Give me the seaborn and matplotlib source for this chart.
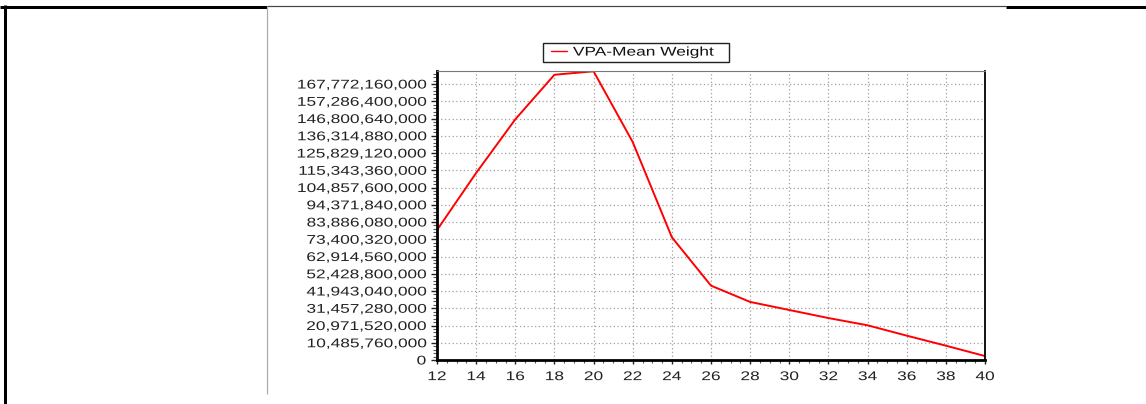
import matplotlib
matplotlib.use("Agg")
import matplotlib.pyplot as plt
import seaborn as sns
import numpy as np
from matplotlib.patheffects import AbstractPathEffect
from matplotlib.transforms import Affine2D
from matplotlib.lines import Line2D
from matplotlib.ticker import AutoMinorLocator
from matplotlib.legend_handler import HandlerLine2D

# ---------------- data ----------------
ages = [12, 14, 16, 18, 20, 22, 24, 26, 28, 30, 32, 34, 36, 38, 40]
mean_weight = [79.0e9, 113.7e9, 146.3e9, 173.4e9, 175.5e9, 132.5e9, 74.6e9,
               45.2e9, 35.3e9, 30.4e9, 25.5e9, 21.1e9, 14.8e9, 8.7e9, 2.4e9]
series_label = "VPA-Mean Weight"
y_step = 10_485_760_000
y_ticks = [i * y_step for i in range(17)]
y_tick_labels = [f"{v:,}" for v in y_ticks]
x_ticks = list(range(12, 41, 2))
x_tick_labels = [str(v) for v in x_ticks]

# ---------------- style ----------------
sns.set_style("white")
plt.rcParams["font.family"] = ["Liberation Sans", "DejaVu Sans"]

W, H = 1146, 404
FS = 9.1
SX = 1.37


class HStretch(AbstractPathEffect):
    """Horizontally stretch text glyphs around an anchor."""
    def __init__(self, sx, anchor):
        super().__init__()
        self.sx = sx
        self.anchor = anchor

    def draw_path(self, renderer, gc, tpath, affine, rgbFace=None):
        ext = tpath.get_extents(affine)
        if self.anchor == "left":
            a = ext.x0
        elif self.anchor == "right":
            a = ext.x1
        else:
            a = 0.5 * (ext.x0 + ext.x1)
        t = affine + Affine2D().translate(-a, 0).scale(self.sx, 1).translate(a, 0)
        renderer.draw_path(gc, tpath, t, rgbFace)


def px(x, y):
    return x / W, 1 - y / H


fig = plt.figure(figsize=(W / 100, H / 100), dpi=100)
fig.patch.set_facecolor("white")
l, b = 437 / W, 1 - 360 / H
ax = fig.add_axes([l, b, (985 - 437) / W, (360 - 71) / H])

sns.lineplot(x=ages, y=mean_weight, color="#ff0000", linewidth=1.4, ax=ax,
             label=series_label, legend=False)

ax.set_xlim(12, 40)
ax.set_ylim(0, 175.68e9)
ax.set_xticks(x_ticks, x_tick_labels)
ax.set_yticks(y_ticks, y_tick_labels)
ax.xaxis.set_minor_locator(AutoMinorLocator(4))
ax.yaxis.set_minor_locator(AutoMinorLocator(5))

ax.tick_params(axis="y", which="both", left=True, right=False)
ax.tick_params(axis="x", which="both", bottom=True, top=False)
ax.tick_params(axis="y", which="major", direction="out", length=4.3, width=1.0,
               pad=3.6, labelsize=FS, colors="#222222")
ax.tick_params(axis="y", which="minor", direction="out", length=2.8, width=0.8,
               colors="#555555")
ax.tick_params(axis="x", which="major", direction="out", length=3.0, width=1.0,
               pad=5.0, labelsize=FS, colors="#222222")
ax.tick_params(axis="x", which="minor", direction="out", length=2.0, width=0.8,
               colors="#555555")
ax.set_xlabel("")
ax.set_ylabel("")

ax.grid(True, which="major", color="#a0a0a0", linestyle=(0, (1, 2)), linewidth=0.9)
ax.set_axisbelow(True)

ax.spines["left"].set_linewidth(2.0)
ax.spines["bottom"].set_linewidth(2.0)
ax.spines["left"].set_color("black")
ax.spines["bottom"].set_color("black")
ax.spines["right"].set_linewidth(1.3)
ax.spines["right"].set_color("black")
ax.spines["top"].set_linewidth(0.8)
ax.spines["top"].set_color("#777777")

for lab in ax.get_yticklabels():
    lab.set_path_effects([HStretch(SX, "right")])
for lab in ax.get_xticklabels():
    lab.set_path_effects([HStretch(SX, "center")])

# legend
x0, y0 = px(543, 62)
x1, y1 = px(729, 41)
handles, labels = ax.get_legend_handles_labels()
leg = ax.legend(handles, labels, loc="lower left",
                bbox_to_anchor=(x0, y0, x1 - x0, y1 - y0),
                bbox_transform=fig.transFigure, mode="expand",
                borderaxespad=0, borderpad=0.27, handlelength=1.63,
                handletextpad=0.47, fontsize=FS, frameon=True, fancybox=False,
                shadow=False, framealpha=1,
                handler_map={Line2D: HandlerLine2D(xpad=0.36)})
leg.get_frame().set_edgecolor("#222222")
leg.get_frame().set_linewidth(1.0)
for t in leg.get_texts():
    t.set_color("#111111")
    t.set_path_effects([HStretch(SX, "left")])
for h in leg.legend_handles:
    h.set_linewidth(1.0)

# page frame decorations
def fline(xa, ya, xb, yb, lw, color):
    (fx0, fy0), (fx1, fy1) = px(xa, ya), px(xb, yb)
    fig.add_artist(Line2D([fx0, fx1], [fy0, fy1], transform=fig.transFigure,
                          color=color, linewidth=lw * 0.72,
                          solid_capstyle="butt"))

fline(0, 6.5, 267, 6.5, 3, "black")
fline(267, 6, 1006, 6, 1.2, "#444444")
fline(1006, 6.5, W, 6.5, 3, "black")
fline(4.5, 5, 4.5, H, 3, "black")
fline(267, 6, 267, 394, 1.2, "#aaaaaa")

fig.savefig("out.png", dpi=100, facecolor="white")
